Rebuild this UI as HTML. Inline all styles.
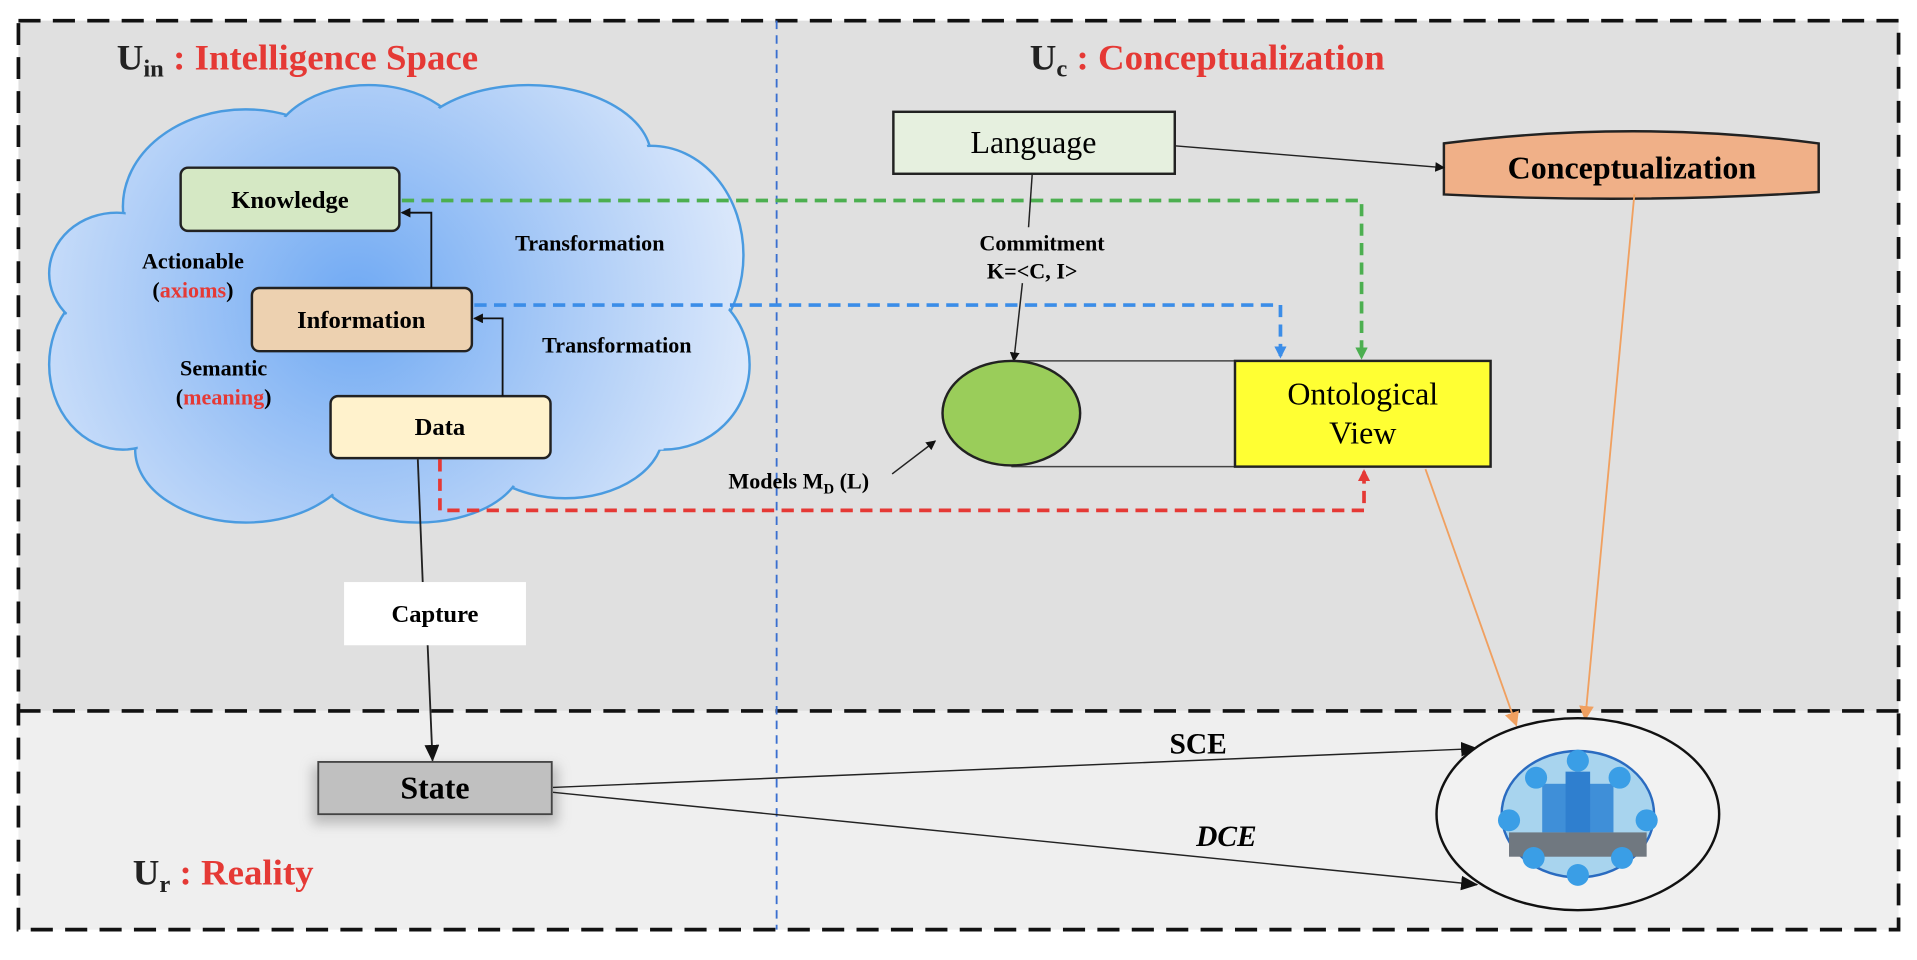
<!DOCTYPE html>
<html><head><meta charset="utf-8"><style>html,body{margin:0;padding:0;background:#fff}svg{display:block}</style></head>
<body>
<svg width="1917" height="960" viewBox="0 0 1560 790" preserveAspectRatio="none" xmlns="http://www.w3.org/2000/svg" font-family="Liberation Serif, serif">
<defs>
<radialGradient id="cg" gradientUnits="userSpaceOnUse" cx="290" cy="250" r="320">
<stop offset="0" stop-color="#6fa9f3"/><stop offset="0.55" stop-color="#acccf7"/><stop offset="1" stop-color="#dbe8fb"/>
</radialGradient>
<marker id="ab" markerWidth="8" markerHeight="8" refX="7" refY="4" orient="auto" markerUnits="userSpaceOnUse"><path d="M0,0 L8,4 L0,8z" fill="#111"/></marker>
<marker id="abig" markerWidth="14" markerHeight="12" refX="13" refY="6" orient="auto" markerUnits="userSpaceOnUse"><path d="M0,0 L14,6 L0,12z" fill="#111"/></marker>
<marker id="ag" markerWidth="10" markerHeight="10" refX="9" refY="5" orient="auto" markerUnits="userSpaceOnUse"><path d="M0,0 L10,5 L0,10z" fill="#4caf50"/></marker>
<marker id="abl" markerWidth="10" markerHeight="10" refX="9" refY="5" orient="auto" markerUnits="userSpaceOnUse"><path d="M0,0 L10,5 L0,10z" fill="#3b8de8"/></marker>
<marker id="ar" markerWidth="10" markerHeight="10" refX="9" refY="5" orient="auto" markerUnits="userSpaceOnUse"><path d="M0,0 L10,5 L0,10z" fill="#e53935"/></marker>
<marker id="ao" markerWidth="12" markerHeight="12" refX="11" refY="6" orient="auto" markerUnits="userSpaceOnUse"><path d="M0,0 L12,6 L0,12z" fill="#f0a060"/></marker>
<filter id="sh" x="-20%" y="-40%" width="140%" height="180%"><feGaussianBlur stdDeviation="5"/></filter>
</defs>
<rect x="0" y="0" width="1560" height="790" fill="#fff"/>
<rect x="15" y="17" width="1530" height="568" fill="#e0e0e0"/>
<rect x="15" y="585" width="1530" height="180" fill="#efefef"/>
<rect x="15" y="17" width="1530" height="748" fill="none" stroke="#111" stroke-width="3" stroke-dasharray="18,10"/>
<line x1="15" y1="585" x2="1545" y2="585" stroke="#111" stroke-width="3" stroke-dasharray="18,10"/>
<line x1="632" y1="17" x2="632" y2="765" stroke="#3a6fd0" stroke-width="1.5" stroke-dasharray="7,5"/>

<!-- cloud -->
<g stroke="#4a9be0" stroke-width="2" fill="url(#cg)">
<ellipse cx="200" cy="170" rx="100" ry="80"/>
<ellipse cx="300" cy="125" rx="80" ry="55"/>
<ellipse cx="430" cy="130" rx="100" ry="60"/>
<ellipse cx="530" cy="210" rx="75" ry="90"/>
<ellipse cx="540" cy="300" rx="70" ry="70"/>
<ellipse cx="460" cy="355" rx="80" ry="55"/>
<ellipse cx="340" cy="380" rx="85" ry="50"/>
<ellipse cx="200" cy="370" rx="90" ry="60"/>
<ellipse cx="100" cy="300" rx="60" ry="70"/>
<ellipse cx="95" cy="225" rx="55" ry="50"/>
</g>
<g fill="url(#cg)">
<ellipse cx="200" cy="170" rx="98" ry="78"/>
<ellipse cx="300" cy="125" rx="78" ry="53"/>
<ellipse cx="430" cy="130" rx="98" ry="58"/>
<ellipse cx="530" cy="210" rx="73" ry="88"/>
<ellipse cx="540" cy="300" rx="68" ry="68"/>
<ellipse cx="460" cy="355" rx="78" ry="53"/>
<ellipse cx="340" cy="380" rx="83" ry="48"/>
<ellipse cx="200" cy="370" rx="88" ry="58"/>
<ellipse cx="100" cy="300" rx="58" ry="68"/>
<ellipse cx="95" cy="225" rx="53" ry="48"/>
<rect x="120" y="150" width="420" height="220"/>
</g>

<!-- titles -->
<g font-weight="bold" font-size="30">
<text x="95" y="57" fill="#222">U<tspan font-size="20" dy="6">in</tspan><tspan dy="-6" fill="#e53935"> : Intelligence Space</tspan></text>
<text x="838" y="57" fill="#222">U<tspan font-size="20" dy="6">c</tspan><tspan dy="-6" fill="#e53935"> : Conceptualization</tspan></text>
<text x="108" y="728" fill="#222">U<tspan font-size="20" dy="6">r</tspan><tspan dy="-6" fill="#e53935"> : Reality</tspan></text>
</g>

<!-- boxes in cloud -->
<rect x="147" y="138" width="178" height="52" rx="6" fill="#d5e8c4" stroke="#222" stroke-width="2"/>
<text x="236" y="171" text-anchor="middle" font-weight="bold" font-size="20">Knowledge</text>
<rect x="205" y="237" width="179" height="52" rx="6" fill="#edd1b0" stroke="#222" stroke-width="2"/>
<text x="294" y="270" text-anchor="middle" font-weight="bold" font-size="20">Information</text>
<rect x="269" y="326" width="179" height="51" rx="6" fill="#fff2cc" stroke="#222" stroke-width="2"/>
<text x="358" y="358" text-anchor="middle" font-weight="bold" font-size="20">Data</text>
<polyline points="409,326 409,262 386,262" fill="none" stroke="#111" stroke-width="1.5" marker-end="url(#ab)"/>
<polyline points="351,237 351,175 327,175" fill="none" stroke="#111" stroke-width="1.5" marker-end="url(#ab)"/>
<g font-weight="bold" font-size="18" text-anchor="middle">
<text x="480" y="206">Transformation</text>
<text x="502" y="290">Transformation</text>
<text x="157" y="221">Actionable</text>
<text x="157" y="245">(<tspan fill="#e53935">axioms</tspan>)</text>
<text x="182" y="309">Semantic</text>
<text x="182" y="333">(<tspan fill="#e53935">meaning</tspan>)</text>
</g>

<!-- dashed connectors -->
<polyline points="327,165 1108,165 1108,295" fill="none" stroke="#4caf50" stroke-width="3" stroke-dasharray="10,6" marker-end="url(#ag)"/>
<polyline points="386,251 1042,251 1042,294" fill="none" stroke="#3b8de8" stroke-width="3" stroke-dasharray="10,6" marker-end="url(#abl)"/>
<polyline points="358,378 358,420 1110,420 1110,387" fill="none" stroke="#e53935" stroke-width="3" stroke-dasharray="10,6" marker-end="url(#ar)"/>

<!-- conceptualization side -->
<rect x="727" y="92" width="229" height="51" fill="#e6f0df" stroke="#222" stroke-width="2"/>
<text x="841" y="126" text-anchor="middle" font-size="26">Language</text>
<path d="M1175,118 Q1330,98 1480,118 L1480,158 Q1330,168 1175,160 Z" fill="#f0b088" stroke="#222" stroke-width="2"/>
<text x="1328" y="147" text-anchor="middle" font-weight="bold" font-size="26">Conceptualization</text>
<line x1="956" y1="120" x2="1175" y2="138" stroke="#222" stroke-width="1.2" marker-end="url(#ab)"/>
<line x1="840" y1="143" x2="837" y2="187" stroke="#222" stroke-width="1.2"/>
<line x1="832" y1="233" x2="825" y2="297" stroke="#222" stroke-width="1.2" marker-end="url(#ab)"/>
<text x="848" y="206" text-anchor="middle" font-weight="bold" font-size="18">Commitment</text>
<text x="840" y="229" text-anchor="middle" font-weight="bold" font-size="18">K=&lt;C, I&gt;</text>
<line x1="823" y1="297" x2="1005" y2="297" stroke="#444" stroke-width="1.2"/>
<line x1="823" y1="384" x2="1005" y2="384" stroke="#444" stroke-width="1.2"/>
<ellipse cx="823" cy="340" rx="56" ry="43" fill="#9acd5a" stroke="#222" stroke-width="2"/>
<rect x="1005" y="297" width="208" height="87" fill="#ffff33" stroke="#222" stroke-width="2"/>
<text x="1109" y="333" text-anchor="middle" font-size="26">Ontological</text>
<text x="1109" y="365" text-anchor="middle" font-size="26">View</text>
<text x="650" y="402" text-anchor="middle" font-weight="bold" font-size="18">Models M<tspan font-size="12" dy="4">D</tspan><tspan dy="-4"> (L)</tspan></text>
<line x1="726" y1="390" x2="761" y2="363" stroke="#222" stroke-width="1.2" marker-end="url(#ab)"/>
<line x1="1160" y1="386" x2="1234" y2="597" stroke="#f0a060" stroke-width="1.5" marker-end="url(#ao)"/>
<line x1="1330" y1="160" x2="1290" y2="592" stroke="#f0a060" stroke-width="1.5" marker-end="url(#ao)"/>

<!-- capture & state -->
<line x1="340" y1="378" x2="344" y2="479" stroke="#222" stroke-width="1.5"/>
<rect x="280" y="479" width="148" height="52" fill="#fff"/>
<text x="354" y="512" text-anchor="middle" font-weight="bold" font-size="20">Capture</text>
<line x1="348" y1="531" x2="352" y2="626" stroke="#222" stroke-width="1.5" marker-end="url(#abig)"/>
<rect x="254" y="630" width="200" height="48" fill="#888" opacity="0.5" filter="url(#sh)"/>
<rect x="259" y="627" width="190" height="43" fill="#c0c0c0" stroke="#444" stroke-width="1.5"/>
<text x="354" y="657" text-anchor="middle" font-weight="bold" font-size="26">State</text>
<line x1="450" y1="648" x2="1202" y2="616" stroke="#222" stroke-width="1.2" marker-end="url(#abig)"/>
<line x1="450" y1="652" x2="1202" y2="728" stroke="#222" stroke-width="1.2" marker-end="url(#abig)"/>
<text x="975" y="620" text-anchor="middle" font-weight="bold" font-size="24">SCE</text>
<text x="998" y="696" text-anchor="middle" font-weight="bold" font-style="italic" font-size="24">DCE</text>

<!-- hospital circle -->
<ellipse cx="1284" cy="670" rx="115" ry="79" fill="#f2f2f2" stroke="#111" stroke-width="2"/>
<ellipse cx="1284" cy="670" rx="62" ry="52" fill="#a8d4ee" stroke="#2a6bc0" stroke-width="2"/>
<rect x="1255" y="645" width="58" height="40" fill="#3f8fd8"/>
<rect x="1274" y="635" width="20" height="50" fill="#2f7fcf"/>
<rect x="1228" y="685" width="112" height="20" fill="#707880"/>
<g fill="#3a9ee6">
<circle cx="1284" cy="626" r="9"/><circle cx="1318" cy="640" r="9"/><circle cx="1340" cy="675" r="9"/>
<circle cx="1320" cy="706" r="9"/><circle cx="1284" cy="720" r="9"/><circle cx="1248" cy="706" r="9"/>
<circle cx="1228" cy="675" r="9"/><circle cx="1250" cy="640" r="9"/>
</g>
</svg>
</body></html>
